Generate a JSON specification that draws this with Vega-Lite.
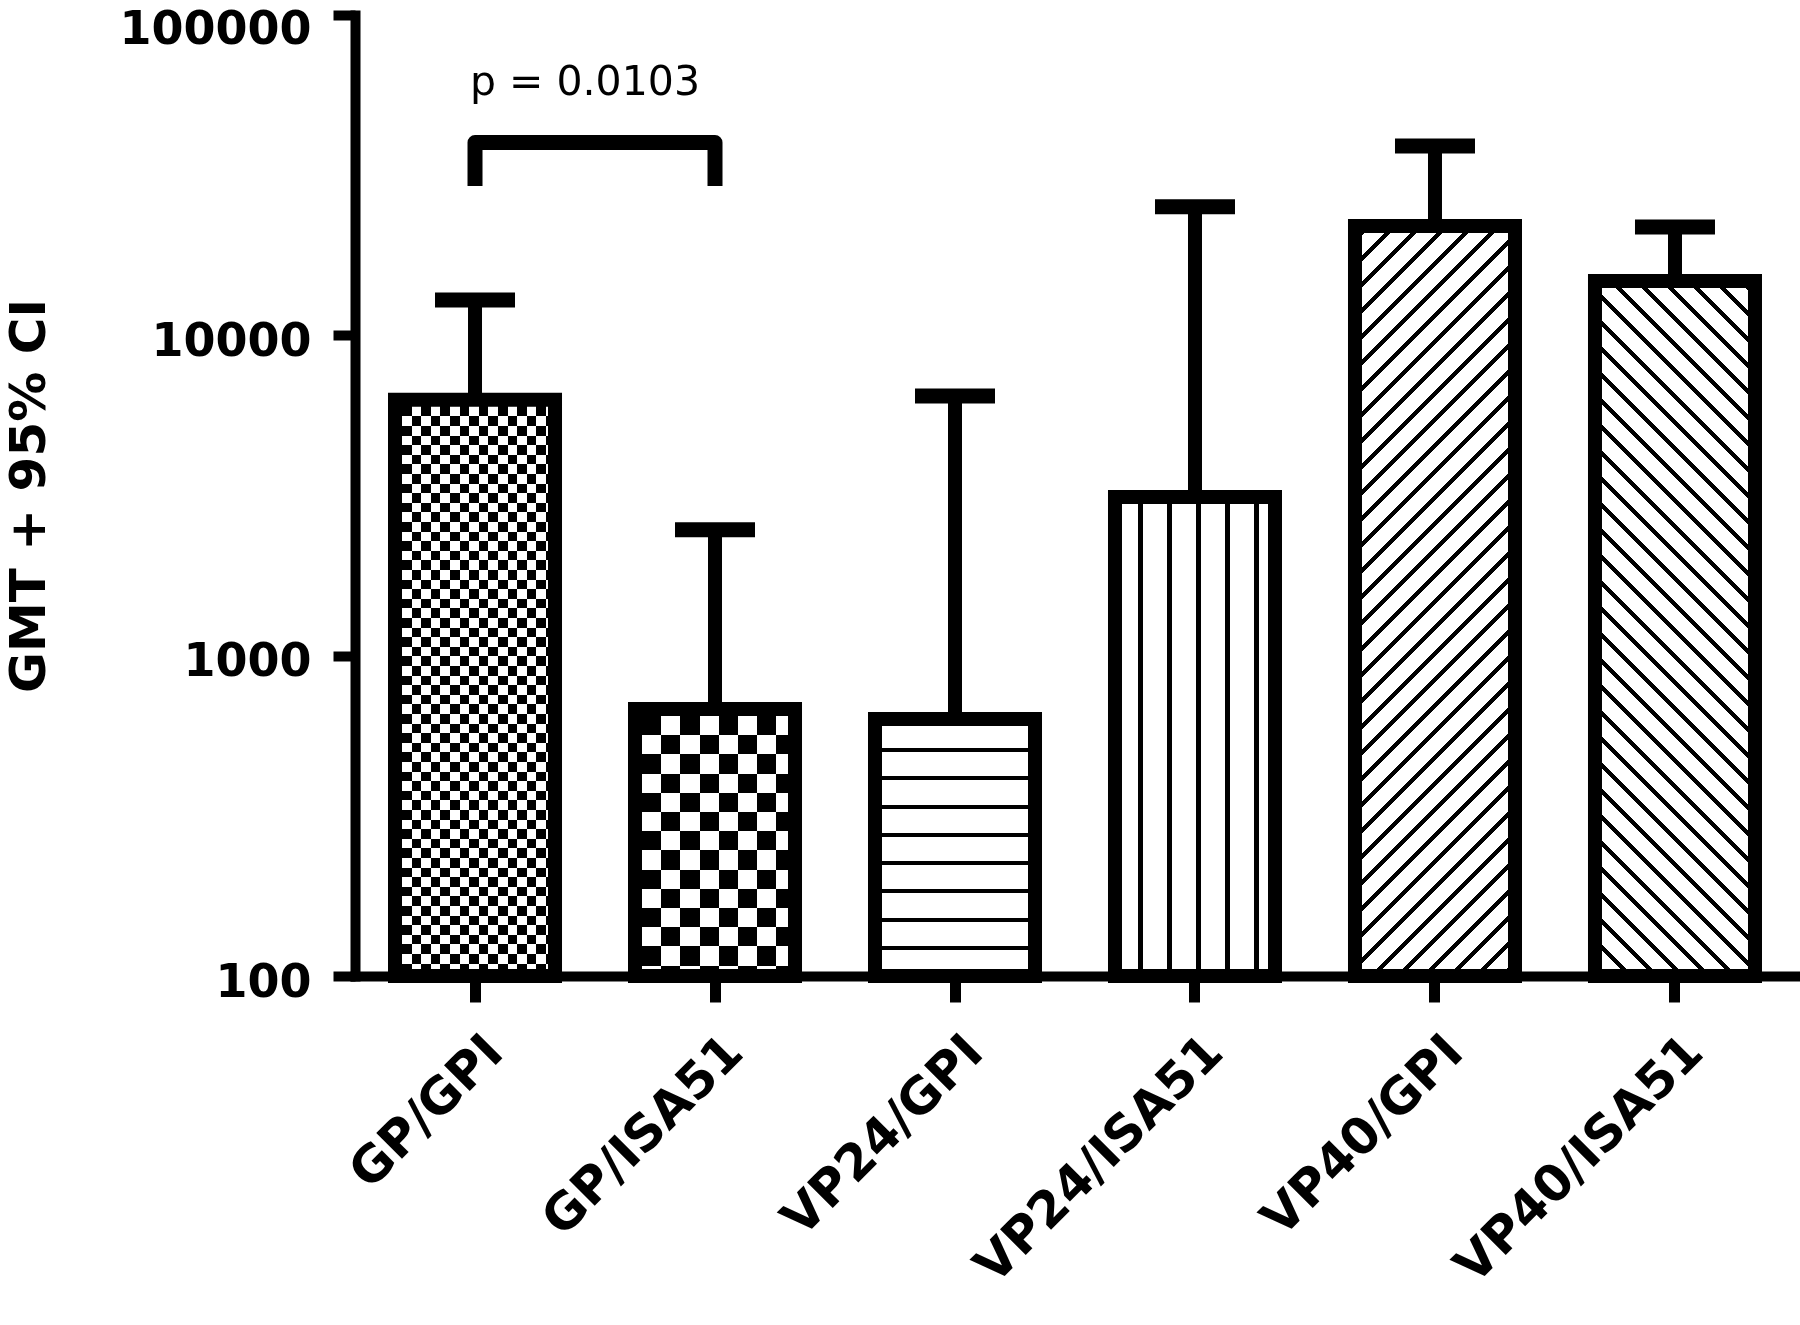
{
 "$schema": "https://vega.github.io/schema/vega-lite/v6.json",
 "width": 1440,
 "height": 961,
 "autosize": {"type": "none"},
 "padding": {"left": 355, "top": 15, "right": 5, "bottom": 349},
 "background": "white",
 "config": {"view": {"stroke": null}, "axis": {"grid": false}},
 "datasets": {
  "bars": [
   {"group": "GP/GPI", "v": 6290, "upper": 12900},
   {"group": "GP/ISA51", "v": 682, "upper": 2470},
   {"group": "VP24/GPI", "v": 634, "upper": 6470},
   {"group": "VP24/ISA51", "v": 3130, "upper": 25200},
   {"group": "VP40/GPI", "v": 21960, "upper": 39000},
   {"group": "VP40/ISA51", "v": 14790, "upper": 21800}
  ],
  "bracket": [
   {"group": "GP/GPI", "v": 29250, "i": 1},
   {"group": "GP/GPI", "v": 40000, "i": 2},
   {"group": "GP/ISA51", "v": 40000, "i": 3},
   {"group": "GP/ISA51", "v": 29250, "i": 4}
  ],
  "note": [{"group": "GP/GPI", "v": 56200, "label": "p = 0.0103"}]
 },
 "data": {"name": "bars"},
 "encoding": {
  "x": {
   "field": "group", "type": "nominal", "title": null,
   "scale": {"domain": ["GP/GPI", "GP/ISA51", "VP24/GPI", "VP24/ISA51", "VP40/GPI", "VP40/ISA51"], "paddingInner": 0.3333, "paddingOuter": 0.1667},
   "axis": {"labelAngle": -45, "labelAlign": "right", "labelBaseline": "middle", "labelFont": "DejaVu Sans", "labelFontSize": 50, "labelFontWeight": "bold", "labelColor": "black", "labelPadding": 42, "labelOffset": 20, "labelLimit": 1000, "tickSize": 26, "tickWidth": 11, "tickColor": "black", "domainColor": "black", "domainWidth": 10, "domainCap": "square"}
  },
  "y": {
   "field": "v", "type": "quantitative", "title": "GMT + 95% CI",
   "scale": {"type": "log", "domain": [100, 100000], "nice": false},
   "axis": {"values": [100, 1000, 10000, 100000], "format": "d", "labelFont": "DejaVu Sans", "labelFontSize": 46, "labelFontWeight": "bold", "labelColor": "black", "labelPadding": 22, "labelOffset": {"condition": {"test": "datum.value >= 100000", "value": 14}, "value": 6}, "labelLimit": 1000, "tickSize": 22, "tickWidth": 10, "tickColor": "black", "domainColor": "black", "domainWidth": 10, "domainCap": "square", "titleFont": "DejaVu Sans", "titleFontSize": 50, "titleFontWeight": "bold", "titleColor": "black", "titleX": -326, "titleY": 480.5, "titleAngle": -90, "titleAlign": "center", "titleBaseline": "middle"}
  }
 },
 "layer": [
  {
   "transform": [{"filter": "datum.group === 'GP/GPI'"}],
   "mark": {"type": "bar", "fill": {"gradient": "linear", "x1": 0, "y1": 0, "x2": 1, "y2": 0, "stops": [
    {"offset": 0.04375, "color": "#fff"}, {"offset": 0.04375, "color": "#000"}, {"offset": 0.10375, "color": "#000"}, {"offset": 0.10375, "color": "#fff"},
    {"offset": 0.16375, "color": "#fff"}, {"offset": 0.16375, "color": "#000"}, {"offset": 0.22375, "color": "#000"}, {"offset": 0.22375, "color": "#fff"},
    {"offset": 0.28375, "color": "#fff"}, {"offset": 0.28375, "color": "#000"}, {"offset": 0.34375, "color": "#000"}, {"offset": 0.34375, "color": "#fff"},
    {"offset": 0.40375, "color": "#fff"}, {"offset": 0.40375, "color": "#000"}, {"offset": 0.46375, "color": "#000"}, {"offset": 0.46375, "color": "#fff"},
    {"offset": 0.52375, "color": "#fff"}, {"offset": 0.52375, "color": "#000"}, {"offset": 0.58375, "color": "#000"}, {"offset": 0.58375, "color": "#fff"},
    {"offset": 0.64375, "color": "#fff"}, {"offset": 0.64375, "color": "#000"}, {"offset": 0.70375, "color": "#000"}, {"offset": 0.70375, "color": "#fff"},
    {"offset": 0.76375, "color": "#fff"}, {"offset": 0.76375, "color": "#000"}, {"offset": 0.82375, "color": "#000"}, {"offset": 0.82375, "color": "#fff"},
    {"offset": 0.88375, "color": "#fff"}, {"offset": 0.88375, "color": "#000"}, {"offset": 0.94375, "color": "#000"}, {"offset": 0.94375, "color": "#fff"}
   ]}},
   "encoding": {"y2": {"datum": 100}}
  },
  {
   "transform": [{"filter": "datum.group === 'GP/GPI'"}],
   "mark": {"type": "bar", "blend": "difference", "fill": {"gradient": "linear", "x1": 0, "y1": 0, "x2": 0, "y2": 1, "stops": [
    {"offset": 0.02881, "color": "#000"}, {"offset": 0.02881, "color": "#fff"}, {"offset": 0.04547, "color": "#fff"}, {"offset": 0.04547, "color": "#000"},
    {"offset": 0.06213, "color": "#000"}, {"offset": 0.06213, "color": "#fff"}, {"offset": 0.07879, "color": "#fff"}, {"offset": 0.07879, "color": "#000"},
    {"offset": 0.09545, "color": "#000"}, {"offset": 0.09545, "color": "#fff"}, {"offset": 0.11212, "color": "#fff"}, {"offset": 0.11212, "color": "#000"},
    {"offset": 0.12878, "color": "#000"}, {"offset": 0.12878, "color": "#fff"}, {"offset": 0.14544, "color": "#fff"}, {"offset": 0.14544, "color": "#000"},
    {"offset": 0.1621, "color": "#000"}, {"offset": 0.1621, "color": "#fff"}, {"offset": 0.17876, "color": "#fff"}, {"offset": 0.17876, "color": "#000"},
    {"offset": 0.19542, "color": "#000"}, {"offset": 0.19542, "color": "#fff"}, {"offset": 0.21208, "color": "#fff"}, {"offset": 0.21208, "color": "#000"},
    {"offset": 0.22874, "color": "#000"}, {"offset": 0.22874, "color": "#fff"}, {"offset": 0.2454, "color": "#fff"}, {"offset": 0.2454, "color": "#000"},
    {"offset": 0.26206, "color": "#000"}, {"offset": 0.26206, "color": "#fff"}, {"offset": 0.27872, "color": "#fff"}, {"offset": 0.27872, "color": "#000"},
    {"offset": 0.29539, "color": "#000"}, {"offset": 0.29539, "color": "#fff"}, {"offset": 0.31205, "color": "#fff"}, {"offset": 0.31205, "color": "#000"},
    {"offset": 0.32871, "color": "#000"}, {"offset": 0.32871, "color": "#fff"}, {"offset": 0.34537, "color": "#fff"}, {"offset": 0.34537, "color": "#000"},
    {"offset": 0.36203, "color": "#000"}, {"offset": 0.36203, "color": "#fff"}, {"offset": 0.37869, "color": "#fff"}, {"offset": 0.37869, "color": "#000"},
    {"offset": 0.39535, "color": "#000"}, {"offset": 0.39535, "color": "#fff"}, {"offset": 0.41201, "color": "#fff"}, {"offset": 0.41201, "color": "#000"},
    {"offset": 0.42867, "color": "#000"}, {"offset": 0.42867, "color": "#fff"}, {"offset": 0.44533, "color": "#fff"}, {"offset": 0.44533, "color": "#000"},
    {"offset": 0.462, "color": "#000"}, {"offset": 0.462, "color": "#fff"}, {"offset": 0.47866, "color": "#fff"}, {"offset": 0.47866, "color": "#000"},
    {"offset": 0.49532, "color": "#000"}, {"offset": 0.49532, "color": "#fff"}, {"offset": 0.51198, "color": "#fff"}, {"offset": 0.51198, "color": "#000"},
    {"offset": 0.52864, "color": "#000"}, {"offset": 0.52864, "color": "#fff"}, {"offset": 0.5453, "color": "#fff"}, {"offset": 0.5453, "color": "#000"},
    {"offset": 0.56196, "color": "#000"}, {"offset": 0.56196, "color": "#fff"}, {"offset": 0.57862, "color": "#fff"}, {"offset": 0.57862, "color": "#000"},
    {"offset": 0.59528, "color": "#000"}, {"offset": 0.59528, "color": "#fff"}, {"offset": 0.61194, "color": "#fff"}, {"offset": 0.61194, "color": "#000"},
    {"offset": 0.62861, "color": "#000"}, {"offset": 0.62861, "color": "#fff"}, {"offset": 0.64527, "color": "#fff"}, {"offset": 0.64527, "color": "#000"},
    {"offset": 0.66193, "color": "#000"}, {"offset": 0.66193, "color": "#fff"}, {"offset": 0.67859, "color": "#fff"}, {"offset": 0.67859, "color": "#000"},
    {"offset": 0.69525, "color": "#000"}, {"offset": 0.69525, "color": "#fff"}, {"offset": 0.71191, "color": "#fff"}, {"offset": 0.71191, "color": "#000"},
    {"offset": 0.72857, "color": "#000"}, {"offset": 0.72857, "color": "#fff"}, {"offset": 0.74523, "color": "#fff"}, {"offset": 0.74523, "color": "#000"},
    {"offset": 0.76189, "color": "#000"}, {"offset": 0.76189, "color": "#fff"}, {"offset": 0.77855, "color": "#fff"}, {"offset": 0.77855, "color": "#000"},
    {"offset": 0.79522, "color": "#000"}, {"offset": 0.79522, "color": "#fff"}, {"offset": 0.81188, "color": "#fff"}, {"offset": 0.81188, "color": "#000"},
    {"offset": 0.82854, "color": "#000"}, {"offset": 0.82854, "color": "#fff"}, {"offset": 0.8452, "color": "#fff"}, {"offset": 0.8452, "color": "#000"},
    {"offset": 0.86186, "color": "#000"}, {"offset": 0.86186, "color": "#fff"}, {"offset": 0.87852, "color": "#fff"}, {"offset": 0.87852, "color": "#000"},
    {"offset": 0.89518, "color": "#000"}, {"offset": 0.89518, "color": "#fff"}, {"offset": 0.91184, "color": "#fff"}, {"offset": 0.91184, "color": "#000"},
    {"offset": 0.9285, "color": "#000"}, {"offset": 0.9285, "color": "#fff"}, {"offset": 0.94516, "color": "#fff"}, {"offset": 0.94516, "color": "#000"},
    {"offset": 0.96183, "color": "#000"}, {"offset": 0.96183, "color": "#fff"}, {"offset": 0.97849, "color": "#fff"}, {"offset": 0.97849, "color": "#000"},
    {"offset": 0.99515, "color": "#000"}, {"offset": 0.99515, "color": "#fff"}, {"offset": 1, "color": "#fff"}
   ]}},
   "encoding": {"y2": {"datum": 100}}
  },
  {
   "transform": [{"filter": "datum.group === 'GP/ISA51'"}],
   "mark": {"type": "bar", "fill": {"gradient": "linear", "x1": 0, "y1": 0, "x2": 1, "y2": 0, "stops": [
    {"offset": 0.04375, "color": "#fff"}, {"offset": 0.04375, "color": "#000"}, {"offset": 0.16375, "color": "#000"}, {"offset": 0.16375, "color": "#fff"},
    {"offset": 0.28375, "color": "#fff"}, {"offset": 0.28375, "color": "#000"}, {"offset": 0.40375, "color": "#000"}, {"offset": 0.40375, "color": "#fff"},
    {"offset": 0.52375, "color": "#fff"}, {"offset": 0.52375, "color": "#000"}, {"offset": 0.64375, "color": "#000"}, {"offset": 0.64375, "color": "#fff"},
    {"offset": 0.76375, "color": "#fff"}, {"offset": 0.76375, "color": "#000"}, {"offset": 0.88375, "color": "#000"}, {"offset": 0.88375, "color": "#fff"}
   ]}},
   "encoding": {"y2": {"datum": 100}}
  },
  {
   "transform": [{"filter": "datum.group === 'GP/ISA51'"}],
   "mark": {"type": "bar", "blend": "difference", "fill": {"gradient": "linear", "x1": 0, "y1": 0, "x2": 0, "y2": 1, "stops": [
    {"offset": 0.09809, "color": "#000"}, {"offset": 0.09809, "color": "#fff"}, {"offset": 0.16997, "color": "#fff"}, {"offset": 0.16997, "color": "#000"},
    {"offset": 0.24186, "color": "#000"}, {"offset": 0.24186, "color": "#fff"}, {"offset": 0.31374, "color": "#fff"}, {"offset": 0.31374, "color": "#000"},
    {"offset": 0.38562, "color": "#000"}, {"offset": 0.38562, "color": "#fff"}, {"offset": 0.45751, "color": "#fff"}, {"offset": 0.45751, "color": "#000"},
    {"offset": 0.52939, "color": "#000"}, {"offset": 0.52939, "color": "#fff"}, {"offset": 0.60127, "color": "#fff"}, {"offset": 0.60127, "color": "#000"},
    {"offset": 0.67316, "color": "#000"}, {"offset": 0.67316, "color": "#fff"}, {"offset": 0.74504, "color": "#fff"}, {"offset": 0.74504, "color": "#000"},
    {"offset": 0.81692, "color": "#000"}, {"offset": 0.81692, "color": "#fff"}, {"offset": 0.88881, "color": "#fff"}, {"offset": 0.88881, "color": "#000"},
    {"offset": 0.96069, "color": "#000"}, {"offset": 0.96069, "color": "#fff"}, {"offset": 1, "color": "#fff"}
   ]}},
   "encoding": {"y2": {"datum": 100}}
  },
  {
   "transform": [{"filter": "datum.group === 'VP24/GPI'"}],
   "mark": {"type": "bar", "fill": {"gradient": "linear", "x1": 0, "y1": 0, "x2": 0, "y2": 1, "stops": [
    {"offset": 0.1125, "color": "#fff"}, {"offset": 0.1125, "color": "#000"}, {"offset": 0.12807, "color": "#000"}, {"offset": 0.12807, "color": "#fff"},
    {"offset": 0.22266, "color": "#fff"}, {"offset": 0.22266, "color": "#000"}, {"offset": 0.23823, "color": "#000"}, {"offset": 0.23823, "color": "#fff"},
    {"offset": 0.33281, "color": "#fff"}, {"offset": 0.33281, "color": "#000"}, {"offset": 0.34839, "color": "#000"}, {"offset": 0.34839, "color": "#fff"},
    {"offset": 0.44297, "color": "#fff"}, {"offset": 0.44297, "color": "#000"}, {"offset": 0.45855, "color": "#000"}, {"offset": 0.45855, "color": "#fff"},
    {"offset": 0.55313, "color": "#fff"}, {"offset": 0.55313, "color": "#000"}, {"offset": 0.5687, "color": "#000"}, {"offset": 0.5687, "color": "#fff"},
    {"offset": 0.66329, "color": "#fff"}, {"offset": 0.66329, "color": "#000"}, {"offset": 0.67886, "color": "#000"}, {"offset": 0.67886, "color": "#fff"},
    {"offset": 0.77345, "color": "#fff"}, {"offset": 0.77345, "color": "#000"}, {"offset": 0.78902, "color": "#000"}, {"offset": 0.78902, "color": "#fff"},
    {"offset": 0.88361, "color": "#fff"}, {"offset": 0.88361, "color": "#000"}, {"offset": 0.89918, "color": "#000"}, {"offset": 0.89918, "color": "#fff"}
   ]}},
   "encoding": {"y2": {"datum": 100}}
  },
  {
   "transform": [{"filter": "datum.group === 'VP24/ISA51'"}],
   "mark": {"type": "bar", "fill": {"gradient": "linear", "x1": 0, "y1": 0, "x2": 1, "y2": 0, "stops": [
    {"offset": 0.14563, "color": "#fff"}, {"offset": 0.14563, "color": "#000"}, {"offset": 0.17688, "color": "#000"}, {"offset": 0.17688, "color": "#fff"},
    {"offset": 0.32625, "color": "#fff"}, {"offset": 0.32625, "color": "#000"}, {"offset": 0.3575, "color": "#000"}, {"offset": 0.3575, "color": "#fff"},
    {"offset": 0.50688, "color": "#fff"}, {"offset": 0.50688, "color": "#000"}, {"offset": 0.53813, "color": "#000"}, {"offset": 0.53813, "color": "#fff"},
    {"offset": 0.6875, "color": "#fff"}, {"offset": 0.6875, "color": "#000"}, {"offset": 0.71875, "color": "#000"}, {"offset": 0.71875, "color": "#fff"},
    {"offset": 0.86813, "color": "#fff"}, {"offset": 0.86813, "color": "#000"}, {"offset": 0.89938, "color": "#000"}, {"offset": 0.89938, "color": "#fff"}
   ]}},
   "encoding": {"y2": {"datum": 100}}
  },
  {
   "transform": [{"filter": "datum.group === 'VP40/GPI'"}],
   "mark": {"type": "bar", "fill": {"gradient": "linear", "x1": 0, "y1": 0, "x2": 0.24754, "y2": 1.16048, "stops": [
    {"offset": 0.0121, "color": "#fff"}, {"offset": 0.0121, "color": "#000"}, {"offset": 0.0187, "color": "#000"}, {"offset": 0.0187, "color": "#fff"},
    {"offset": 0.0407, "color": "#fff"}, {"offset": 0.0407, "color": "#000"}, {"offset": 0.0472, "color": "#000"}, {"offset": 0.0472, "color": "#fff"},
    {"offset": 0.0692, "color": "#fff"}, {"offset": 0.0692, "color": "#000"}, {"offset": 0.0758, "color": "#000"}, {"offset": 0.0758, "color": "#fff"},
    {"offset": 0.0978, "color": "#fff"}, {"offset": 0.0978, "color": "#000"}, {"offset": 0.1044, "color": "#000"}, {"offset": 0.1044, "color": "#fff"},
    {"offset": 0.1264, "color": "#fff"}, {"offset": 0.1264, "color": "#000"}, {"offset": 0.133, "color": "#000"}, {"offset": 0.133, "color": "#fff"},
    {"offset": 0.1549, "color": "#fff"}, {"offset": 0.1549, "color": "#000"}, {"offset": 0.1615, "color": "#000"}, {"offset": 0.1615, "color": "#fff"},
    {"offset": 0.1835, "color": "#fff"}, {"offset": 0.1835, "color": "#000"}, {"offset": 0.1901, "color": "#000"}, {"offset": 0.1901, "color": "#fff"},
    {"offset": 0.2121, "color": "#fff"}, {"offset": 0.2121, "color": "#000"}, {"offset": 0.2187, "color": "#000"}, {"offset": 0.2187, "color": "#fff"},
    {"offset": 0.2406, "color": "#fff"}, {"offset": 0.2406, "color": "#000"}, {"offset": 0.2472, "color": "#000"}, {"offset": 0.2472, "color": "#fff"},
    {"offset": 0.2692, "color": "#fff"}, {"offset": 0.2692, "color": "#000"}, {"offset": 0.2758, "color": "#000"}, {"offset": 0.2758, "color": "#fff"},
    {"offset": 0.2978, "color": "#fff"}, {"offset": 0.2978, "color": "#000"}, {"offset": 0.3044, "color": "#000"}, {"offset": 0.3044, "color": "#fff"},
    {"offset": 0.3263, "color": "#fff"}, {"offset": 0.3263, "color": "#000"}, {"offset": 0.3329, "color": "#000"}, {"offset": 0.3329, "color": "#fff"},
    {"offset": 0.3549, "color": "#fff"}, {"offset": 0.3549, "color": "#000"}, {"offset": 0.3615, "color": "#000"}, {"offset": 0.3615, "color": "#fff"},
    {"offset": 0.3835, "color": "#fff"}, {"offset": 0.3835, "color": "#000"}, {"offset": 0.3901, "color": "#000"}, {"offset": 0.3901, "color": "#fff"},
    {"offset": 0.412, "color": "#fff"}, {"offset": 0.412, "color": "#000"}, {"offset": 0.4186, "color": "#000"}, {"offset": 0.4186, "color": "#fff"},
    {"offset": 0.4406, "color": "#fff"}, {"offset": 0.4406, "color": "#000"}, {"offset": 0.4472, "color": "#000"}, {"offset": 0.4472, "color": "#fff"},
    {"offset": 0.4692, "color": "#fff"}, {"offset": 0.4692, "color": "#000"}, {"offset": 0.4758, "color": "#000"}, {"offset": 0.4758, "color": "#fff"},
    {"offset": 0.4977, "color": "#fff"}, {"offset": 0.4977, "color": "#000"}, {"offset": 0.5043, "color": "#000"}, {"offset": 0.5043, "color": "#fff"},
    {"offset": 0.5263, "color": "#fff"}, {"offset": 0.5263, "color": "#000"}, {"offset": 0.5329, "color": "#000"}, {"offset": 0.5329, "color": "#fff"},
    {"offset": 0.5549, "color": "#fff"}, {"offset": 0.5549, "color": "#000"}, {"offset": 0.5615, "color": "#000"}, {"offset": 0.5615, "color": "#fff"},
    {"offset": 0.5835, "color": "#fff"}, {"offset": 0.5835, "color": "#000"}, {"offset": 0.59, "color": "#000"}, {"offset": 0.59, "color": "#fff"},
    {"offset": 0.612, "color": "#fff"}, {"offset": 0.612, "color": "#000"}, {"offset": 0.6186, "color": "#000"}, {"offset": 0.6186, "color": "#fff"},
    {"offset": 0.6406, "color": "#fff"}, {"offset": 0.6406, "color": "#000"}, {"offset": 0.6472, "color": "#000"}, {"offset": 0.6472, "color": "#fff"},
    {"offset": 0.6692, "color": "#fff"}, {"offset": 0.6692, "color": "#000"}, {"offset": 0.6758, "color": "#000"}, {"offset": 0.6758, "color": "#fff"},
    {"offset": 0.6977, "color": "#fff"}, {"offset": 0.6977, "color": "#000"}, {"offset": 0.7043, "color": "#000"}, {"offset": 0.7043, "color": "#fff"},
    {"offset": 0.7263, "color": "#fff"}, {"offset": 0.7263, "color": "#000"}, {"offset": 0.7329, "color": "#000"}, {"offset": 0.7329, "color": "#fff"},
    {"offset": 0.7549, "color": "#fff"}, {"offset": 0.7549, "color": "#000"}, {"offset": 0.7615, "color": "#000"}, {"offset": 0.7615, "color": "#fff"},
    {"offset": 0.7834, "color": "#fff"}, {"offset": 0.7834, "color": "#000"}, {"offset": 0.79, "color": "#000"}, {"offset": 0.79, "color": "#fff"},
    {"offset": 0.812, "color": "#fff"}, {"offset": 0.812, "color": "#000"}, {"offset": 0.8186, "color": "#000"}, {"offset": 0.8186, "color": "#fff"},
    {"offset": 0.8406, "color": "#fff"}, {"offset": 0.8406, "color": "#000"}, {"offset": 0.8472, "color": "#000"}, {"offset": 0.8472, "color": "#fff"},
    {"offset": 0.8691, "color": "#fff"}, {"offset": 0.8691, "color": "#000"}, {"offset": 0.8757, "color": "#000"}, {"offset": 0.8757, "color": "#fff"},
    {"offset": 0.8977, "color": "#fff"}, {"offset": 0.8977, "color": "#000"}, {"offset": 0.9043, "color": "#000"}, {"offset": 0.9043, "color": "#fff"},
    {"offset": 0.9263, "color": "#fff"}, {"offset": 0.9263, "color": "#000"}, {"offset": 0.9329, "color": "#000"}, {"offset": 0.9329, "color": "#fff"},
    {"offset": 0.9548, "color": "#fff"}, {"offset": 0.9548, "color": "#000"}, {"offset": 0.9614, "color": "#000"}, {"offset": 0.9614, "color": "#fff"},
    {"offset": 0.9834, "color": "#fff"}, {"offset": 0.9834, "color": "#000"}, {"offset": 0.99, "color": "#000"}, {"offset": 0.99, "color": "#fff"}
   ]}},
   "encoding": {"y2": {"datum": 100}}
  },
  {
   "transform": [{"filter": "datum.group === 'VP40/ISA51'"}],
   "mark": {"type": "bar", "fill": {"gradient": "linear", "x1": 1, "y1": 0, "x2": 0.73108, "y2": 1.16827, "stops": [
    {"offset": 0.0129, "color": "#fff"}, {"offset": 0.0129, "color": "#000"}, {"offset": 0.0199, "color": "#000"}, {"offset": 0.0199, "color": "#fff"},
    {"offset": 0.0433, "color": "#fff"}, {"offset": 0.0433, "color": "#000"}, {"offset": 0.0503, "color": "#000"}, {"offset": 0.0503, "color": "#fff"},
    {"offset": 0.0737, "color": "#fff"}, {"offset": 0.0737, "color": "#000"}, {"offset": 0.0807, "color": "#000"}, {"offset": 0.0807, "color": "#fff"},
    {"offset": 0.1041, "color": "#fff"}, {"offset": 0.1041, "color": "#000"}, {"offset": 0.1111, "color": "#000"}, {"offset": 0.1111, "color": "#fff"},
    {"offset": 0.1345, "color": "#fff"}, {"offset": 0.1345, "color": "#000"}, {"offset": 0.1415, "color": "#000"}, {"offset": 0.1415, "color": "#fff"},
    {"offset": 0.1649, "color": "#fff"}, {"offset": 0.1649, "color": "#000"}, {"offset": 0.1719, "color": "#000"}, {"offset": 0.1719, "color": "#fff"},
    {"offset": 0.1953, "color": "#fff"}, {"offset": 0.1953, "color": "#000"}, {"offset": 0.2023, "color": "#000"}, {"offset": 0.2023, "color": "#fff"},
    {"offset": 0.2257, "color": "#fff"}, {"offset": 0.2257, "color": "#000"}, {"offset": 0.2327, "color": "#000"}, {"offset": 0.2327, "color": "#fff"},
    {"offset": 0.2561, "color": "#fff"}, {"offset": 0.2561, "color": "#000"}, {"offset": 0.2631, "color": "#000"}, {"offset": 0.2631, "color": "#fff"},
    {"offset": 0.2865, "color": "#fff"}, {"offset": 0.2865, "color": "#000"}, {"offset": 0.2935, "color": "#000"}, {"offset": 0.2935, "color": "#fff"},
    {"offset": 0.3169, "color": "#fff"}, {"offset": 0.3169, "color": "#000"}, {"offset": 0.3239, "color": "#000"}, {"offset": 0.3239, "color": "#fff"},
    {"offset": 0.3473, "color": "#fff"}, {"offset": 0.3473, "color": "#000"}, {"offset": 0.3543, "color": "#000"}, {"offset": 0.3543, "color": "#fff"},
    {"offset": 0.3777, "color": "#fff"}, {"offset": 0.3777, "color": "#000"}, {"offset": 0.3848, "color": "#000"}, {"offset": 0.3848, "color": "#fff"},
    {"offset": 0.4081, "color": "#fff"}, {"offset": 0.4081, "color": "#000"}, {"offset": 0.4152, "color": "#000"}, {"offset": 0.4152, "color": "#fff"},
    {"offset": 0.4385, "color": "#fff"}, {"offset": 0.4385, "color": "#000"}, {"offset": 0.4456, "color": "#000"}, {"offset": 0.4456, "color": "#fff"},
    {"offset": 0.469, "color": "#fff"}, {"offset": 0.469, "color": "#000"}, {"offset": 0.476, "color": "#000"}, {"offset": 0.476, "color": "#fff"},
    {"offset": 0.4994, "color": "#fff"}, {"offset": 0.4994, "color": "#000"}, {"offset": 0.5064, "color": "#000"}, {"offset": 0.5064, "color": "#fff"},
    {"offset": 0.5298, "color": "#fff"}, {"offset": 0.5298, "color": "#000"}, {"offset": 0.5368, "color": "#000"}, {"offset": 0.5368, "color": "#fff"},
    {"offset": 0.5602, "color": "#fff"}, {"offset": 0.5602, "color": "#000"}, {"offset": 0.5672, "color": "#000"}, {"offset": 0.5672, "color": "#fff"},
    {"offset": 0.5906, "color": "#fff"}, {"offset": 0.5906, "color": "#000"}, {"offset": 0.5976, "color": "#000"}, {"offset": 0.5976, "color": "#fff"},
    {"offset": 0.621, "color": "#fff"}, {"offset": 0.621, "color": "#000"}, {"offset": 0.628, "color": "#000"}, {"offset": 0.628, "color": "#fff"},
    {"offset": 0.6514, "color": "#fff"}, {"offset": 0.6514, "color": "#000"}, {"offset": 0.6584, "color": "#000"}, {"offset": 0.6584, "color": "#fff"},
    {"offset": 0.6818, "color": "#fff"}, {"offset": 0.6818, "color": "#000"}, {"offset": 0.6888, "color": "#000"}, {"offset": 0.6888, "color": "#fff"},
    {"offset": 0.7122, "color": "#fff"}, {"offset": 0.7122, "color": "#000"}, {"offset": 0.7192, "color": "#000"}, {"offset": 0.7192, "color": "#fff"},
    {"offset": 0.7426, "color": "#fff"}, {"offset": 0.7426, "color": "#000"}, {"offset": 0.7496, "color": "#000"}, {"offset": 0.7496, "color": "#fff"},
    {"offset": 0.773, "color": "#fff"}, {"offset": 0.773, "color": "#000"}, {"offset": 0.78, "color": "#000"}, {"offset": 0.78, "color": "#fff"},
    {"offset": 0.8034, "color": "#fff"}, {"offset": 0.8034, "color": "#000"}, {"offset": 0.8104, "color": "#000"}, {"offset": 0.8104, "color": "#fff"},
    {"offset": 0.8338, "color": "#fff"}, {"offset": 0.8338, "color": "#000"}, {"offset": 0.8408, "color": "#000"}, {"offset": 0.8408, "color": "#fff"},
    {"offset": 0.8642, "color": "#fff"}, {"offset": 0.8642, "color": "#000"}, {"offset": 0.8712, "color": "#000"}, {"offset": 0.8712, "color": "#fff"},
    {"offset": 0.8946, "color": "#fff"}, {"offset": 0.8946, "color": "#000"}, {"offset": 0.9016, "color": "#000"}, {"offset": 0.9016, "color": "#fff"},
    {"offset": 0.925, "color": "#fff"}, {"offset": 0.925, "color": "#000"}, {"offset": 0.9321, "color": "#000"}, {"offset": 0.9321, "color": "#fff"},
    {"offset": 0.9554, "color": "#fff"}, {"offset": 0.9554, "color": "#000"}, {"offset": 0.9625, "color": "#000"}, {"offset": 0.9625, "color": "#fff"},
    {"offset": 0.9858, "color": "#fff"}, {"offset": 0.9858, "color": "#000"}, {"offset": 0.9929, "color": "#000"}, {"offset": 0.9929, "color": "#fff"}
   ]}},
   "encoding": {"y2": {"datum": 100}}
  },
  {
   "mark": {"type": "bar", "fill": "transparent", "stroke": "black", "strokeWidth": 14},
   "encoding": {"y2": {"datum": 100}}
  },
  {
   "mark": {"type": "rule", "color": "black", "strokeWidth": 14},
   "encoding": {"y2": {"field": "upper"}}
  },
  {
   "mark": {"type": "tick", "color": "black", "opacity": 1, "size": 80, "thickness": 15},
   "encoding": {"y": {"field": "upper", "type": "quantitative", "title": "GMT + 95% CI"}}
  },
  {
   "data": {"name": "bracket"},
   "mark": {"type": "line", "color": "black", "strokeWidth": 15, "strokeJoin": "round", "strokeCap": "butt"},
   "encoding": {"order": {"field": "i", "type": "quantitative"}}
  },
  {
   "data": {"name": "note"},
   "mark": {"type": "text", "dx": 110, "align": "center", "baseline": "alphabetic", "font": "DejaVu Sans", "fontSize": 41, "color": "black"},
   "encoding": {"text": {"field": "label"}}
  }
 ]
}
